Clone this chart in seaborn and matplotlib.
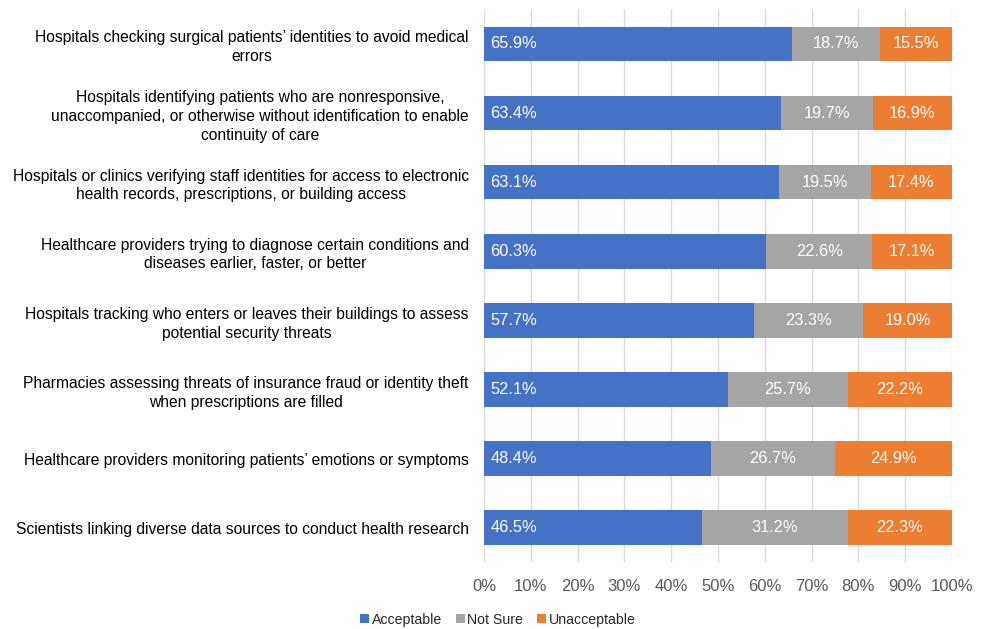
import matplotlib
matplotlib.use("Agg")
import matplotlib.pyplot as plt
import seaborn as sns
import pandas as pd
import numpy as np
from matplotlib.patches import Patch

categories = [
    "Hospitals checking surgical patients\u2019 identities to avoid medical\nerrors",
    "Hospitals identifying patients who are nonresponsive,\nunaccompanied, or otherwise without identification to enable\ncontinuity of care",
    "Hospitals or clinics verifying staff identities for access to electronic\nhealth records, prescriptions, or building access",
    "Healthcare providers trying to diagnose certain conditions and\ndiseases earlier, faster, or better",
    "Hospitals tracking who enters or leaves their buildings to assess\npotential security threats",
    "Pharmacies assessing threats of insurance fraud or identity theft\nwhen prescriptions are filled",
    "Healthcare providers monitoring patients\u2019 emotions or symptoms",
    "Scientists linking diverse data sources to conduct health research",
]
acceptable = [65.9, 63.4, 63.1, 60.3, 57.7, 52.1, 48.4, 46.5]
not_sure = [18.7, 19.7, 19.5, 22.6, 23.3, 25.7, 26.7, 31.2]
unacceptable = [15.5, 16.9, 17.4, 17.1, 19.0, 22.2, 24.9, 22.3]
series_names = ["Acceptable", "Not Sure", "Unacceptable"]
xticks = [0, 10, 20, 30, 40, 50, 60, 70, 80, 90, 100]

colors = ["#4472C4", "#A5A5A5", "#ED7D31"]

sns.set_style("white")
plt.rcParams["font.family"] = ["Liberation Sans", "DejaVu Sans"]

df = pd.DataFrame({"cat": categories, "a": acceptable, "n": not_sure, "u": unacceptable})
# Normalise each row to 100 % like a 100 % stacked bar chart
tot = df["a"] + df["n"] + df["u"]
df["a_s"] = df["a"] / tot * 100
df["n_s"] = df["n"] / tot * 100
df["u_s"] = df["u"] / tot * 100
df["c1"] = df["a_s"]
df["c2"] = df["a_s"] + df["n_s"]
df["c3"] = df["c2"] + df["u_s"]

fig = plt.figure(figsize=(9.86, 6.29), dpi=100)
ax = fig.add_axes([0.491, 0.106, 0.4745, 0.879])

# Cumulative layers drawn back to front
for col, c in zip(["c3", "c2", "c1"], colors[::-1]):
    sns.barplot(data=df, x=col, y="cat", color=c, orient="h", width=0.5,
                saturation=1, ax=ax, zorder=3, linewidth=0)

# Segment value labels
for i, row in df.iterrows():
    ax.text(1.3, i, f"{row['a']:.1f}%", ha="left", va="center", color="white",
            fontsize=11.8, zorder=5)
    ax.text((row["c1"] + row["c2"]) / 2, i, f"{row['n']:.1f}%", ha="center",
            va="center", color="white", fontsize=11.8, zorder=5)
    ax.text((row["c2"] + row["c3"]) / 2, i, f"{row['u']:.1f}%", ha="center",
            va="center", color="white", fontsize=11.8, zorder=5)

ax.set_xlim(0, 100)
ax.set_ylim(len(categories) - 0.5, -0.5)
ax.set_xticks(xticks)
ax.set_xticklabels([f"{t}%" for t in xticks], fontsize=12, color="#595959")
ax.tick_params(axis="x", length=0, pad=12)
ax.tick_params(axis="y", length=0, pad=11)
ax.set_xlabel("")
ax.set_ylabel("")
for lbl in ax.get_yticklabels():
    lbl.set_fontsize(11.25)
    lbl.set_color("black")
    lbl.set_multialignment("center")
    lbl.set_linespacing(1.3)

ax.grid(axis="x", color="#D9D9D9", linewidth=1, zorder=0)
ax.set_axisbelow(True)
for s in ax.spines.values():
    s.set_visible(False)

handles = [Patch(facecolor=c, edgecolor="none") for c in colors]
fig.legend(handles, series_names, loc="center", bbox_to_anchor=(0.505, 0.015),
           ncol=3, frameon=False, fontsize=10.2, handlelength=0.6, handleheight=0.6,
           handletextpad=0.2, columnspacing=1.0)

fig.savefig("out.png", dpi=100)
